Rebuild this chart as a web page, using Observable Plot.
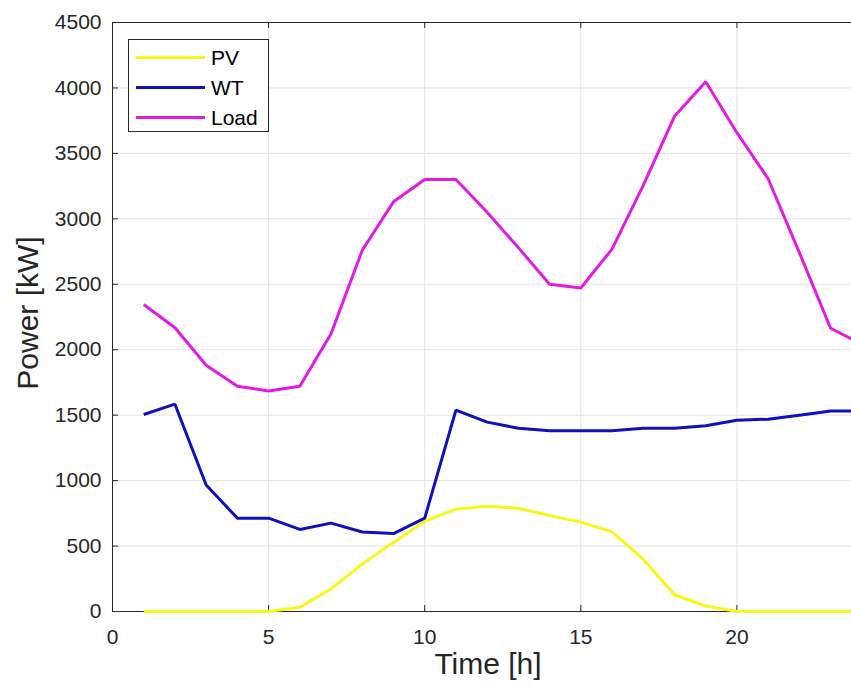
<!DOCTYPE html>
<html>
<head>
<meta charset="utf-8">
<script src="https://cdn.jsdelivr.net/npm/d3@7"></script>
<script src="https://cdn.jsdelivr.net/npm/@observablehq/plot@0.6"></script>
<style>
  html, body { margin: 0; padding: 0; background: #ffffff; }
  #wrap { position: relative; width: 851px; height: 691px; overflow: hidden; font-family: "Liberation Sans", Arial, Helvetica, sans-serif; }
  #legend { position: absolute; left: 128px; top: 39px; width: 141px; height: 93px; border: 1px solid #262626; background: #ffffff; box-sizing: border-box; }
  .row { position: absolute; left: 0; height: 30px; width: 100%; }
  .swatch { position: absolute; left: 7px; top: 13px; width: 69px; height: 3px; }
  .lab { position: absolute; left: 82px; top: 1px; font-size: 21px; line-height: 28px; color: #000; }
</style>
</head>
<body>
<div id="wrap"></div>
<script>
// ---- data ----
const hours = [1, 2, 3, 4, 5, 6, 7, 8, 9, 10, 11, 12, 13, 14, 15, 16, 17, 18, 19, 20, 21, 22, 23, 24];
const pv   = [0, 0, 0, 0, 0, 33, 173, 363, 528, 688, 782, 805, 789, 733, 683, 608, 400, 128, 42, 0, 0, 0, 0, 0];
const wt   = [1505, 1584, 967, 713, 713, 627, 675, 607, 595, 713, 1538, 1447, 1400, 1381, 1381, 1381, 1400, 1400, 1419, 1461, 1469, 1500, 1531, 1531];
const load = [2345, 2168, 1881, 1721, 1685, 1721, 2122, 2760, 3130, 3300, 3300, 3050, 2780, 2500, 2472, 2769, 3256, 3783, 4047, 3658, 3306, 2742, 2164, 2043];
const seriesNames = ["PV", "WT", "Load"];
const seriesColors = ["#f7f71a", "#1010bf", "#e41ae4"];
const xTicks = [0, 5, 10, 15, 20];
const yTicks = [0, 500, 1000, 1500, 2000, 2500, 3000, 3500, 4000, 4500];
const xLabel = "Time [h]";
const yLabel = "Power [kW]";

const seriesValues = [pv, wt, load];
const rows = [];
seriesNames.forEach((name, s) => {
  hours.forEach((h, i) => rows.push({series: name, hour: h, value: seriesValues[s][i]}));
});

const axisColor = "#262626";
const gridColor = "#e2e2e2";

const chart = Plot.plot({
  width: 851,
  height: 691,
  marginLeft: 112,
  marginTop: 22,
  marginBottom: 80,
  marginRight: 0,
  style: {fontFamily: '"Liberation Sans", Arial, Helvetica, sans-serif', color: axisColor, background: "#ffffff", overflow: "hidden"},
  x: {domain: [0, 23.67]},
  y: {domain: [0, 4500]},
  marks: [
    Plot.gridX(xTicks, {stroke: gridColor, strokeOpacity: 1}),
    Plot.gridY(yTicks, {stroke: gridColor, strokeOpacity: 1}),
    Plot.axisX(xTicks, {tickSize: 0, tickPadding: 18, fontSize: 21, tickFormat: d => String(d), label: null}),
    Plot.axisY(yTicks, {tickSize: 0, tickPadding: 11, fontSize: 21, tickFormat: d => String(d), label: null}),
    Plot.ruleY([0], {stroke: axisColor}),
    Plot.ruleY([4500], {stroke: axisColor}),
    Plot.ruleX([0], {stroke: axisColor}),
    Plot.ruleX(xTicks, {x: d => d, y1: 0, y2: 0, insetBottom: 6, stroke: axisColor}),
    Plot.ruleX(xTicks, {x: d => d, y1: 4500, y2: 4500, insetTop: 6, stroke: axisColor}),
    Plot.ruleY(yTicks, {y: d => d, x1: 0, x2: 0, insetLeft: 6, stroke: axisColor}),
    Plot.line(rows, {
      x: "hour", y: "value", z: "series",
      stroke: d => seriesColors[seriesNames.indexOf(d.series)],
      strokeWidth: 3, strokeLinejoin: "miter", strokeLinecap: "butt"
    }),
    Plot.text([xLabel], {frameAnchor: "bottom", dx: 6, dy: 62, fontSize: 30, fill: axisColor}),
    Plot.text([yLabel], {frameAnchor: "left", textAnchor: "middle", dx: -84, dy: -4, rotate: -90, fontSize: 30, fill: axisColor})
  ]
});

const wrap = document.getElementById("wrap");
wrap.appendChild(chart);

const legend = document.createElement("div");
legend.id = "legend";
seriesNames.forEach((name, i) => {
  const row = document.createElement("div");
  row.className = "row";
  row.style.top = (3 + i * 30) + "px";
  const sw = document.createElement("div");
  sw.className = "swatch";
  sw.style.background = seriesColors[i];
  const lab = document.createElement("div");
  lab.className = "lab";
  lab.textContent = name;
  row.appendChild(sw);
  row.appendChild(lab);
  legend.appendChild(row);
});
wrap.appendChild(legend);
</script>
</body>
</html>
